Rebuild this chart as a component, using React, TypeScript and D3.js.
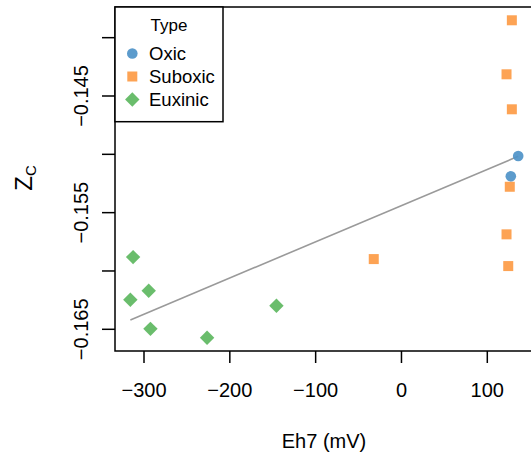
import React from "react";
import * as d3 from "d3";

const types = ["Oxic", "Suboxic", "Euxinic"];
const colors = ["#4e92c8", "#fd9b45", "#5db760"];

const oxicEh = [136, 127.4];
const oxicZc = [-0.15015, -0.15189];
const suboxicEh = [128.6, 122.4, 128.6, 126.2, 122.4, 124.4, -32.3];
const suboxicZc = [-0.13851, -0.14314, -0.14614, -0.15278, -0.15686, -0.15958, -0.15898];
const euxinicEh = [-312.7, -294.5, -315.9, -292.5, -226.5, -145.7];
const euxinicZc = [-0.15881, -0.1617, -0.16247, -0.16496, -0.16573, -0.16298];

const xTicks = [-300, -200, -100, 0, 100];
const yTicks = [-0.14, -0.145, -0.15, -0.155, -0.16, -0.165];
const yTickLabels = ["", "\u22120.145", "", "\u22120.155", "", "\u22120.165"];

const W = 531, H = 452;
const left = 115, top = 7, bottom = 351, right = 532;
const FONT = "'Liberation Sans', Arial, Helvetica, sans-serif";

export default function App() {
  const x = d3.scaleLinear().domain([-300, 100]).range([144, 487.3]);
  const y = d3.scaleLinear().domain([-0.145, -0.165]).range([96, 329.3]);

  const groups = [
    { eh: oxicEh, zc: oxicZc },
    { eh: suboxicEh, zc: suboxicZc },
    { eh: euxinicEh, zc: euxinicZc },
  ];
  const allEh = groups.flatMap((g) => g.eh);
  const allZc = groups.flatMap((g) => g.zc);
  const mx = d3.mean(allEh)!, my = d3.mean(allZc)!;
  let sxy = 0, sxx = 0;
  allEh.forEach((v, i) => { sxy += (v - mx) * (allZc[i] - my); sxx += (v - mx) * (v - mx); });
  const slope = sxy / sxx;
  const icpt = my - slope * mx;
  const [xmin, xmax] = d3.extent(allEh) as [number, number];
  const line = d3.line<number>().x((v) => x(v)).y((v) => y(icpt + slope * v));

  const marker = (t: number, cx: number, cy: number, key: string) => {
    const c = colors[t];
    if (t === 0) return <circle key={key} cx={cx} cy={cy} r={5.3} fill={c} fillOpacity={0.92} />;
    if (t === 1) return <rect key={key} x={cx - 5} y={cy - 5} width={10} height={10} fill={c} fillOpacity={0.92} />;
    const s = 7.2;
    return <path key={key} d={`M${cx},${cy - s}L${cx + s},${cy}L${cx},${cy + s}L${cx - s},${cy}Z`} fill={c} fillOpacity={0.92} />;
  };

  return (
    <svg width={W} height={H} style={{ display: "block", position: "absolute", left: 0, top: 0 }} fontFamily={FONT}>
      <rect width={W} height={H} fill="white" />
      <path d={line([xmin, xmax]) || ""} stroke="#9a9a9a" strokeWidth={1.6} fill="none" />
      {groups.map((g, t) => g.eh.map((v, i) => marker(t, x(v), y(g.zc[i]), `${t}-${i}`)))}
      {/* frame */}
      <path d={`M${right},${top}H${left}V${bottom}H${right}`} stroke="black" strokeWidth={1.5} fill="none" />
      {/* x axis */}
      {xTicks.map((t) => (
        <g key={t}>
          <line x1={x(t)} x2={x(t)} y1={bottom} y2={bottom + 12} stroke="black" strokeWidth={1.5} />
          <text x={x(t)} y={397} textAnchor="middle" fontSize={20}>{t < 0 ? "\u2212" + Math.abs(t) : t}</text>
        </g>
      ))}
      {yTicks.map((t, i) => (
        <g key={t}>
          <line x1={left - 13} x2={left} y1={y(t)} y2={y(t)} stroke="black" strokeWidth={1.5} />
          {yTickLabels[i] && (
            <text transform={`translate(88,${y(t)}) rotate(-90)`} textAnchor="middle" fontSize={20}>{yTickLabels[i]}</text>
          )}
        </g>
      ))}
      <text x={324} y={448} textAnchor="middle" fontSize={20}>Eh7 (mV)</text>
      <text transform="translate(32,178) rotate(-90)" textAnchor="middle" fontSize={24}>
        Z<tspan fontSize={15} dy={4}>C</tspan>
      </text>
      {/* legend */}
      <rect x={left} y={top} width={108} height={114.7} fill="white" stroke="black" strokeWidth={1.5} />
      <text x={169} y={31} textAnchor="middle" fontSize={17}>Type</text>
      {types.map((t, i) => (
        <g key={t}>
          {marker(i, 132.3, 53.5 + i * 23, `leg-${i}`)}
          <text x={149} y={60 + i * 23} fontSize={18.5}>{t}</text>
        </g>
      ))}
    </svg>
  );
}
